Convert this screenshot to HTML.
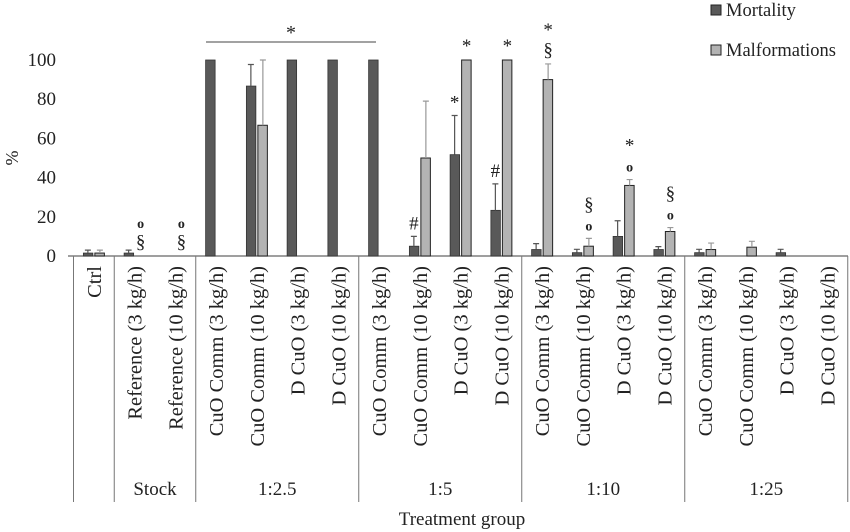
<!DOCTYPE html>
<html><head><meta charset="utf-8"><style>
html,body{margin:0;padding:0;background:#fff;}
svg{display:block;font-family:"Liberation Serif",serif;}
</style></head><body>
<svg id="chart" width="850" height="532" viewBox="0 0 850 532" xmlns="http://www.w3.org/2000/svg"></svg>
<script>
const categories = ["Ctrl","Reference (3 kg/h)","Reference (10 kg/h)","CuO Comm (3 kg/h)","CuO Comm (10 kg/h)","D CuO (3 kg/h)","D CuO (10 kg/h)","CuO Comm (3 kg/h)","CuO Comm (10 kg/h)","D CuO (3 kg/h)","D CuO (10 kg/h)","CuO Comm (3 kg/h)","CuO Comm (10 kg/h)","D CuO (3 kg/h)","D CuO (10 kg/h)","CuO Comm (3 kg/h)","CuO Comm (10 kg/h)","D CuO (3 kg/h)","D CuO (10 kg/h)"];
const mortality = [1.5,1.5,0,100,86.7,100,100,100,5,51.7,23.3,3.3,1.7,10,3.3,1.7,0,1.7,0];
const mortalityErr = [1.5,1.5,0,0,11,0,0,0,5,20,13.5,3,1.7,8,1.5,1.7,0,1.7,0];
const malformations = [1.5,0,0,0,66.7,0,0,0,50,100,100,90,5,36,12.5,3.3,4.5,0,0];
const malformationsErr = [1.5,0,0,0,33.3,0,0,0,29,0,0,8,4,3,2,3.3,3,0,0];
const yTicks = [0,20,40,60,80,100];
const groups = [["",0,1],["Stock",1,3],["1:2.5",3,7],["1:5",7,11],["1:10",11,15],["1:25",15,19]];
const annotMort = ["","","","","","","","","#","*","#","","","","","","","",""];
const annotMal = [[],["§","o"],["§","o"],[],[],[],[],[],[],["*"],["*"],["§","*"],["o","§"],["o","*"],["o","§"],[],[],[],[]];

const svg = document.getElementById('chart');
const NS = 'http://www.w3.org/2000/svg';
const X0 = 73.5, STEP = 40.75, Y0 = 256, YH = 196;
function xc(i){ return X0 + (i + 0.5) * STEP; }
function y(v){ return Y0 - v / 100 * YH; }
function mk(tag, attrs, parent){
  const e = document.createElementNS(NS, tag);
  for (const k in attrs) e.setAttribute(k, attrs[k]);
  (parent || svg).appendChild(e);
  return e;
}
function txt(s, attrs){ const t = mk('text', attrs); t.textContent = s; return t; }

yTicks.forEach(v => {
  const t = txt(String(v), {x:56, y:y(v)+6, 'text-anchor':'end', 'font-size':19, fill:'#222'});
  
  
});
const yt = txt('%', {x:0, y:0, transform:'translate(18,158) rotate(-90)', 'text-anchor':'middle', 'font-size':18, fill:'#222'});



const ax = mk('line', {x1:68, y1:Y0, x2:848, y2:Y0, stroke:'#666', 'stroke-width':1.2});



const seps = new Set();
groups.forEach(g => { seps.add(g[1]); seps.add(g[2]); });
seps.forEach(i => {
  const l = mk('line', {x1:X0+i*STEP, y1:Y0, x2:X0+i*STEP, y2:502, stroke:'#777', 'stroke-width':1});
  
  
});
groups.forEach(g => {
  if (!g[0]) return;
  const t = txt(g[0], {x:X0+(g[1]+g[2])/2*STEP, y:495, 'text-anchor':'middle', 'font-size':19, fill:'#222'});
  
  
});
const xt = txt('Treatment group', {x:462, y:525, 'text-anchor':'middle', 'font-size':19, fill:'#222'});



categories.forEach((c, i) => {
  const t = txt(c, {x:0, y:0, transform:`translate(${xc(i)+7},266) rotate(-90)`, 'text-anchor':'end', 'font-size':20.5, fill:'#222'});
  
  
});

function errBar(cx, v, e, col){
  if (e <= 0) return;
  const top = y(Math.min(100, v + e));
  const l = mk('path', {d:`M${cx},${y(v)} V${top} M${cx-3},${top} H${cx+3}`, stroke:col, 'stroke-width':1.2, fill:'none'});
  
  
}
categories.forEach((c, i) => {
  const cx = xc(i);
  if (mortality[i] > 0) {
    const r = mk('rect', {x:cx-10.5, y:y(mortality[i]), width:9.5, height:Y0-y(mortality[i]), fill:'#595959', stroke:'#333', 'stroke-width':0.8});
    
    
  }
  errBar(cx-6, mortality[i], mortalityErr[i], '#555');
  if (malformations[i] > 0) {
    const r = mk('rect', {x:cx+1, y:y(malformations[i]), width:9.5, height:Y0-y(malformations[i]), fill:'#b3b3b3', stroke:'#222', 'stroke-width':1});
    
    
  }
  errBar(cx+6, malformations[i], malformationsErr[i], '#999');
  const am = annotMort[i];
  if (am) {
    const top = y(mortality[i] + mortalityErr[i]);
    const t = txt(am, {x:cx-6, y:top-7, 'text-anchor':'middle', 'font-size':19, fill:'#222'});
    
    
  }
  let top = y(malformations[i] + malformationsErr[i]) - 8;
  annotMal[i].forEach(s => {
    const t = txt(s, {x:cx+6, y:top, 'text-anchor':'middle', 'font-size': s === 'o' ? 14 : 19, 'font-weight': s === 'o' ? 'bold' : 'normal', fill:'#222'});
    
    
    top -= 20;
  });
});

const gl = mk('line', {x1:206, y1:42, x2:376, y2:42, stroke:'#444', 'stroke-width':1});


const gs = txt('*', {x:291, y:39, 'text-anchor':'middle', 'font-size':20, fill:'#222'});



const lg = mk('g', {});


const r1 = mk('rect', {x:711, y:5, width:10, height:10, fill:'#595959', stroke:'#222'}, lg);


const t1 = mk('text', {x:726, y:16, 'font-size':18.5, fill:'#222'}, lg); t1.textContent = 'Mortality';


const r2 = mk('rect', {x:711, y:45, width:10, height:10, fill:'#b3b3b3', stroke:'#222'}, lg);


const t2 = mk('text', {x:726, y:56, 'font-size':18.5, fill:'#222'}, lg); t2.textContent = 'Malformations';


</script>
</body></html>
